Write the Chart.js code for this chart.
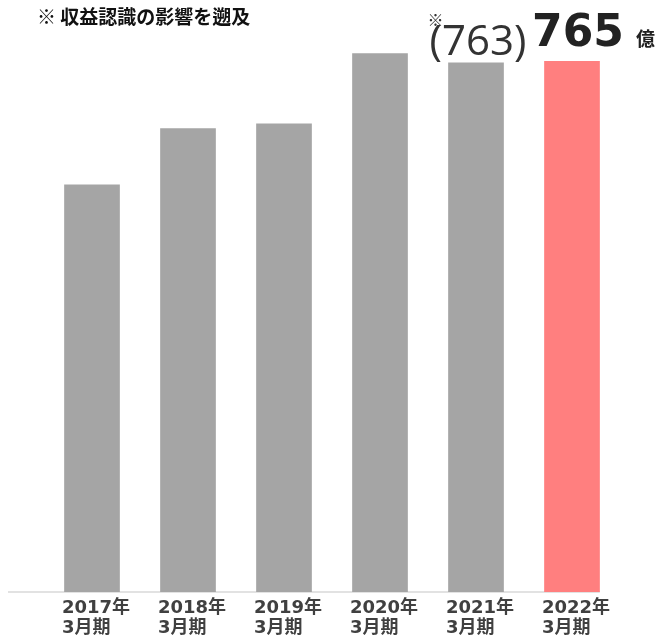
<!DOCTYPE html>
<html lang="ja">
<head>
<meta charset="utf-8">
<script src="https://cdn.jsdelivr.net/npm/chart.js@4/dist/chart.umd.min.js"></script>
<style>
  html, body { margin: 0; padding: 0; background: #fff; }
  #wrap { width: 660px; height: 638px; }
</style>
</head>
<body>
<div id="wrap"><canvas id="revenue-chart"></canvas></div>
<script>
// 売上高（億円）
const years = ["2017年", "2018年", "2019年", "2020年", "2021年", "2022年"];
const periodLabel = "3月期";
const revenue = [587, 668, 675, 776, 763, 765];
const footnote = "※ 収益認識の影響を遡及";
const unitLabel = "億";

const grayBar = "#a5a5a5";
const redBar = "#ff7f7f";
const lastIndex = revenue.length - 1;

// baseline, note and value labels on top of the bars
const annotations = {
  id: "annotations",
  beforeDatasetsDraw(chart) {
    const ctx = chart.ctx;
    const area = chart.chartArea;
    const bars = chart.getDatasetMeta(0).data;
    const last = bars[lastIndex];
    ctx.save();
    ctx.strokeStyle = "#d9d9d9";
    ctx.lineWidth = 1.5;
    ctx.beginPath();
    ctx.moveTo(8, area.bottom);
    ctx.lineTo(last.x + last.width / 2, area.bottom);
    ctx.stroke();
    ctx.restore();
  },
  afterDatasetsDraw(chart) {
    const ctx = chart.ctx;
    const bars = chart.getDatasetMeta(0).data;
    ctx.save();

    // title note
    ctx.fillStyle = "#111";
    ctx.textAlign = "left";
    ctx.textBaseline = "alphabetic";
    ctx.font = "bold 19px 'Noto Sans CJK JP'";
    ctx.fillText(footnote, 37, 24);

    // previous year (restated)
    const prev = bars[lastIndex - 1];
    ctx.fillStyle = "#333";
    ctx.font = "42px 'Open Sans'";
    ctx.textAlign = "center";
    const prevText = "(" + revenue[lastIndex - 1] + ")";
    ctx.fillText(prevText, prev.x + 2, 55);
    const prevW = ctx.measureText(prevText).width;
    ctx.font = "16px 'Noto Sans CJK JP'";
    ctx.textAlign = "left";
    ctx.fillText("※", prev.x + 2 - prevW / 2 - 2, 26);

    // current year
    const cur = bars[lastIndex];
    ctx.fillStyle = "#222";
    ctx.font = "bold 44px 'DejaVu Sans'";
    ctx.textAlign = "center";
    const curText = String(revenue[lastIndex]);
    ctx.fillText(curText, cur.x + 6, 46);
    const curW = ctx.measureText(curText).width;
    ctx.font = "bold 19px 'Noto Sans CJK JP'";
    ctx.textAlign = "left";
    ctx.fillText(unitLabel, cur.x + 6 + curW / 2 + 12, 46);

    ctx.restore();
  }
};

new Chart(document.getElementById("revenue-chart"), {
  type: "bar",
  data: {
    labels: years.map(y => [y, periodLabel]),
    datasets: [{
      label: "売上高",
      data: revenue,
      backgroundColor: revenue.map((v, i) => i === lastIndex ? redBar : grayBar),
      categoryPercentage: 1,
      barPercentage: 0.58
    }]
  },
  options: {
    responsive: true,
    maintainAspectRatio: false,
    animation: false,
    layout: {
      padding: { top: 2, left: 44, right: 40, bottom: 0 }
    },
    scales: {
      x: {
        afterFit(scale) { scale.height = 46; },
        grid: { display: false, drawTicks: false },
        border: { display: false },
        ticks: {
          align: "start",
          labelOffset: -30,
          padding: 6,
          color: "#404040",
          font: { family: "'DejaVu Sans', 'Noto Sans CJK JP'", size: 18, weight: "bold", lineHeight: 1.12 }
        }
      },
      y: {
        display: false,
        min: 0,
        max: 850
      }
    },
    plugins: {
      legend: { display: false },
      tooltip: { enabled: false }
    }
  },
  plugins: [annotations]
});
</script>
</body>
</html>
